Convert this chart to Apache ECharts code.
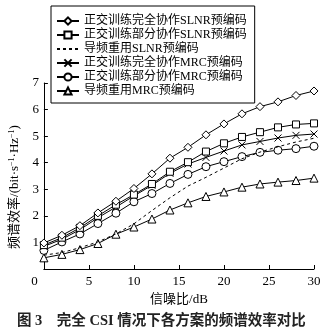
<!DOCTYPE html>
<html><head><meta charset="utf-8">
<script src="https://cdn.jsdelivr.net/npm/echarts@6/dist/echarts.min.js"></script>
<style>html,body{margin:0;padding:0;background:#fff}#c{width:330px;height:331px}</style>
</head><body><div id="c"></div>
<script>
var snr = [0,2,4,6,8,10,12,14,16,18,20,22,24,26,28,30];
var fullSLNR    = [0.98,1.27,1.63,2.11,2.55,3.03,3.58,4.17,4.58,5.05,5.46,5.84,6.11,6.29,6.53,6.70];
var partSLNR    = [0.90,1.18,1.55,2.00,2.42,2.80,3.20,3.66,4.02,4.42,4.73,4.97,5.15,5.33,5.44,5.48];
var reuseSLNR   = [0.52,0.62,0.80,1.02,1.32,1.70,2.20,2.68,3.12,3.45,3.80,4.15,4.40,4.60,4.78,4.92];
var fullMRC     = [0.85,1.12,1.48,1.93,2.33,2.75,3.15,3.60,3.95,4.20,4.44,4.67,4.80,4.93,5.03,5.08];
var partMRC     = [0.70,1.02,1.32,1.71,2.10,2.53,2.84,3.22,3.56,3.85,4.04,4.23,4.39,4.47,4.53,4.62];
var reuseMRC    = [0.42,0.55,0.73,0.96,1.31,1.58,1.88,2.22,2.49,2.73,2.90,3.08,3.20,3.27,3.33,3.42];
var names = ['正交训练完全协作SLNR预编码','正交训练部分协作SLNR预编码','导频重用SLNR预编码','正交训练完全协作MRC预编码','正交训练部分协作MRC预编码','导频重用MRC预编码'];
var xTicks = [0,5,10,15,20,25,30];
var yTicks = [0,1,2,3,4,5,6,7];

var FONT = '"Liberation Serif","Noto Sans CJK SC",serif';
function pairs(arr){ return snr.map(function(x,i){ return [x, arr[i]]; }); }
var symbols = ['diamond','rect','none','path://M0,0L10,10M10,0L0,10','circle','triangle'];
var sizes = [8,7,0,7,8,8];
var datas = [fullSLNR,partSLNR,reuseSLNR,fullMRC,partMRC,reuseMRC];
var series = datas.map(function(d,i){
  return {
    name: names[i], type:'line', data: pairs(d),
    symbol: symbols[i], symbolSize: sizes[i], showSymbol: i!==2,
    lineStyle:{color:'#000', width:1, type: i===2 ? [3,3] : 'solid'},
    itemStyle:{color:'#fff', borderColor:'#000', borderWidth:1},
    emphasis:{disabled:true}, animation:false, z: 10-i
  };
});
var legendData = names.map(function(n,i){
  return i===2 ? {name:n, itemStyle:{color:'rgba(0,0,0,0)', borderColor:'rgba(0,0,0,0)', borderWidth:0}} : {name:n};
});
var chart = echarts.init(document.getElementById('c'), null, {renderer:'canvas'});
chart.setOption({
  backgroundColor:'#fff',
  animation:false,
  title:{
    text:'图 3    完全 CSI 情况下各方案的频谱效率对比',
    left:12, top:309,
    textStyle:{fontFamily:FONT, fontSize:14.5, fontWeight:'bold', color:'#222'}
  },
  legend:{
    orient:'vertical', left:51, top:6,
    padding:[8,8,5,5], itemGap:0, itemWidth:22, itemHeight:9,
    borderColor:'#000', borderWidth:1, backgroundColor:'#fff',
    textStyle:{fontFamily:FONT, fontSize:12, lineHeight:14, color:'#000'},
    data: legendData, z: 20
  },
  grid:{left:41, right:16, top:83, bottom:62},
  xAxis:{
    type:'value', min:0, max:30, interval:5,
    name:'信噪比/dB', nameLocation:'middle', nameGap:21,
    nameTextStyle:{fontFamily:FONT, fontSize:13, color:'#000'},
    axisLine:{lineStyle:{color:'#000', width:1}},
    axisTick:{inside:true, length:4, lineStyle:{color:'#000'}},
    splitLine:{show:false},
    axisLabel:{fontFamily:FONT, fontSize:13, color:'#000', margin:6,
      formatter:function(v){ return v===xTicks[0] ? '{z|'+v+'}' : String(v); },
      rich:{z:{fontFamily:FONT, fontSize:13, color:'#000', padding:[0,19,0,0]}}}
  },
  yAxis:{
    type:'value', min:0, max:7, interval:1,
    name:'{a|频谱效率/(bit·s}{s|−1}{a|·Hz}{s|−1}{a|)}', nameLocation:'middle', nameGap:21,
    nameTextStyle:{padding:[0,22,0,0],
      rich:{a:{fontFamily:FONT, fontSize:13, color:'#000'},
            s:{fontFamily:FONT, fontSize:8, color:'#000', verticalAlign:'top', padding:[0,0,6,0]}}},
    axisLine:{show:true, lineStyle:{color:'#000', width:1}},
    axisTick:{show:true, inside:true, length:4, lineStyle:{color:'#000'}},
    splitLine:{show:false},
    axisLabel:{fontFamily:FONT, fontSize:13, color:'#000', margin:5,
      formatter:function(v){ return v===yTicks[0] ? '' : String(v); }}
  },
  series: series
});
</script></body></html>
